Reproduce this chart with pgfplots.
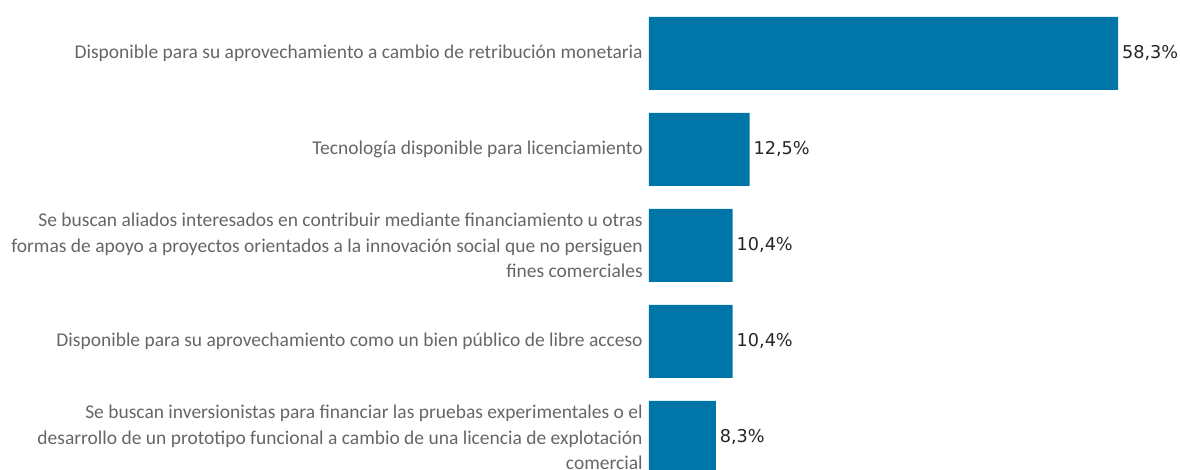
\documentclass[border=0pt]{standalone}
\usepackage{fontspec}
\setmainfont{Carlito}
\newfontfamily\valfont{DejaVu Sans}
\usepackage{pgfplots}
\pgfplotsset{compat=1.18}
\definecolor{barblue}{HTML}{0076A8}
\definecolor{labgray}{HTML}{666666}
\definecolor{valdark}{HTML}{262626}
\begin{document}
\begin{tikzpicture}
\begin{axis}[name=ax, scale only axis, width=318.6pt, height=282pt,
  xbar, xmin=0, xmax=66, ymin=-0.557, ymax=4.339, y dir=reverse,
  bar width=0.76,
  ytick={0,1,2,3,4}, xtick=\empty,
  yticklabels={
    {Disponible para su aprovechamiento a cambio de retribución monetaria},
    {Tecnología disponible para licenciamiento},
    {Se buscan aliados interesados en contribuir mediante financiamiento u otras\\formas de apoyo a proyectos orientados a la innovación social que no persiguen\\fines comerciales},
    {Disponible para su aprovechamiento como un bien público de libre acceso},
    {Se buscan inversionistas para financiar las pruebas experimentales o el\\desarrollo de un prototipo funcional a cambio de una licencia de explotación\\comercial}},
  axis line style={draw=none}, major tick length=0pt, tick style={draw=none},
  yticklabel style={font=\fontsize{11.7}{15.4}\selectfont, text=labgray, align=right, inner sep=0pt, xshift=-3.6pt},
  point meta=x,
  nodes near coords={\pgfmathprintnumber[fixed,precision=1,fixed zerofill,use comma,assume math mode=true]{\pgfplotspointmeta}\%},
  nodes near coords style={anchor=west, inner sep=0pt, xshift=2.2pt, font={\valfont\fontsize{10.6}{12}\selectfont}, text=valdark},
]
\addplot[fill=barblue, draw=none] coordinates {(58.3,0) (12.5,1) (10.4,2) (10.4,3) (8.3,4)};
\end{axis}
\pgfresetboundingbox
\path ([xshift=-389.4pt]ax.south west) rectangle (ax.north east);
\end{tikzpicture}
\end{document}
